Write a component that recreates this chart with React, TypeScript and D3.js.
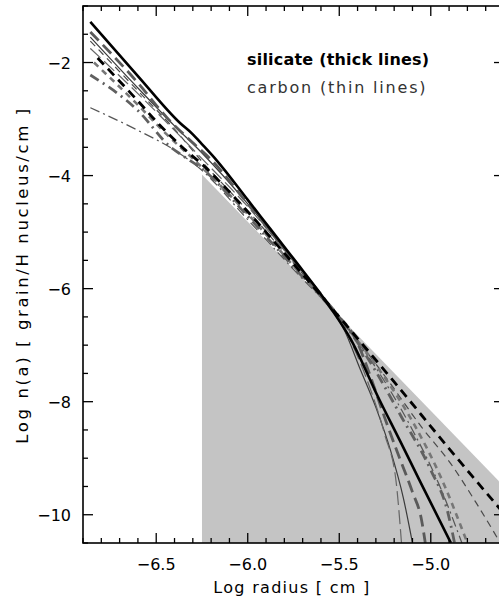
import React, { useEffect, useRef } from "react";
import * as d3 from "d3";

// ---- axes ----
const xDomain: [number, number] = [-6.9, -4.6];
const yDomain: [number, number] = [-10.5, -1];
const xMajorTicks = [-6.5, -6.0, -5.5, -5.0];
const yMajorTicks = [-10, -8, -6, -4, -2];

// ---- shaded MRN-like region ----
const shadeX = [-6.25, -4.6];
const shadeTop = [-3.98, -9.5];

// ---- silicate (thick lines) ----
const silSolidX = [-6.86, -6.6, -6.37, -6.3, -6.26, -6.17, -6.0, -5.88, -5.75, -5.55, -5.44, -5.28, -5.17, -5.06, -4.89];
const silSolidY = [-1.28, -2.24, -3.07, -3.27, -3.41, -3.73, -4.43, -4.93, -5.47, -6.33, -6.88, -7.97, -8.68, -9.4, -10.5];

const silDashX = [-6.82, -6.6, -6.48, -6.35, -6.25, -6.0, -5.75, -5.5, -5.2, -4.9, -4.6];
const silDashY = [-1.92, -2.68, -3.11, -3.52, -3.8, -4.64, -5.56, -6.5, -7.65, -8.83, -9.98];

const silLongDashX = [-6.86, -6.6, -6.44, -6.3, -6.2, -6.0, -5.75, -5.55, -5.4, -5.33, -5.25, -5.17, -5.1, -5.05, -5.03];
const silLongDashY = [-1.46, -2.36, -2.98, -3.42, -3.72, -4.5, -5.5, -6.33, -6.96, -7.55, -8.3, -9.0, -9.6, -10.1, -10.5];

const silDashDotX = [-6.86, -6.6, -6.42, -6.35, -6.25, -6.0, -5.75, -5.5, -5.35, -5.16, -5.0, -4.91, -4.87];
const silDashDotY = [-2.22, -2.85, -3.5, -3.66, -3.88, -4.72, -5.62, -6.5, -7.2, -8.27, -9.21, -9.92, -10.5];

const silShortDashX = [-6.84, -6.6, -6.45, -6.3, -6.0, -5.75, -5.5, -5.3, -5.1, -4.95, -4.8];
const silShortDashY = [-2.0, -2.75, -3.25, -3.7, -4.68, -5.6, -6.52, -7.35, -8.35, -9.3, -10.5];

// ---- carbon (thin lines) ----
const carSolidX = [-6.86, -6.6, -6.4, -6.25, -6.0, -5.75, -5.55, -5.47, -5.39, -5.3, -5.22, -5.15, -5.1];
const carSolidY = [-1.55, -2.45, -3.12, -3.6, -4.5, -5.5, -6.32, -6.75, -7.39, -8.1, -8.86, -9.7, -10.5];

const carDashX = [-6.86, -6.6, -6.4, -6.25, -6.0, -5.75, -5.5, -5.25, -5.05, -4.89, -4.75, -4.62];
const carDashY = [-1.62, -2.5, -3.18, -3.75, -4.62, -5.55, -6.5, -7.55, -8.45, -9.1, -9.8, -10.5];

const carDashDotX = [-6.86, -6.6, -6.4, -6.26, -6.0, -5.75, -5.5, -5.3, -5.1, -4.95, -4.83];
const carDashDotY = [-2.8, -3.2, -3.55, -3.88, -4.78, -5.66, -6.52, -7.4, -8.5, -9.5, -10.5];

const carLongDashX = [-6.86, -6.6, -6.4, -6.25, -6.0, -5.75, -5.55, -5.45, -5.35, -5.25, -5.19, -5.16];
const carLongDashY = [-1.75, -2.55, -3.2, -3.7, -4.55, -5.52, -6.3, -6.85, -7.6, -8.6, -9.4, -10.5];

const zip = (xs: number[], ys: number[]) => xs.map((x, i) => [x, ys[i]] as [number, number]);

const series = [
  { pts: zip(carSolidX, carSolidY), color: "#3a3a3a", width: 1.2, dash: null },
  { pts: zip(carDashX, carDashY), color: "#4a4a4a", width: 1.2, dash: "7,5" },
  { pts: zip(carDashDotX, carDashDotY), color: "#555", width: 1.2, dash: "10,4,2,4" },
  { pts: zip(carLongDashX, carLongDashY), color: "#666", width: 1.2, dash: "14,5" },
  { pts: zip(silShortDashX, silShortDashY), color: "#777", width: 2.6, dash: "6,5" },
  { pts: zip(silDashDotX, silDashDotY), color: "#606060", width: 2.8, dash: "10,5,2,5" },
  { pts: zip(silLongDashX, silLongDashY), color: "#5a5a5a", width: 2.8, dash: "12,6" },
  { pts: zip(silDashX, silDashY), color: "#000", width: 2.8, dash: "9,6" },
  { pts: zip(silSolidX, silSolidY), color: "#000", width: 2.6, dash: null },
];

export default function App() {
  const svgRef = useRef<SVGSVGElement | null>(null);

  useEffect(() => {
    document.body.style.margin = "0";
    const svg = d3.select(svgRef.current);
    svg.selectAll("*").remove();

    const left = 83, right = 504, top = 6, bottom = 543;
    const x = d3.scaleLinear().domain(xDomain).range([left, right]);
    const y = d3.scaleLinear().domain(yDomain).range([bottom, top]);
    const font = "'DejaVu Sans', sans-serif";

    svg.append("defs").append("clipPath").attr("id", "plot-clip")
      .append("rect").attr("x", left).attr("y", top)
      .attr("width", right - left).attr("height", bottom - top);

    const plot = svg.append("g").attr("clip-path", "url(#plot-clip)");

    // shaded region
    const shade = d3.area<[number, number]>()
      .x((d) => x(d[0]))
      .y0(y(yDomain[0]))
      .y1((d) => y(d[1]));
    plot.append("path")
      .datum(zip(shadeX, shadeTop))
      .attr("fill", "#c4c4c4")
      .attr("d", shade);

    const line = d3.line<[number, number]>()
      .x((d) => x(d[0]))
      .y((d) => y(d[1]))
      .curve(d3.curveMonotoneX);

    series.forEach((s) => {
      plot.append("path")
        .datum(s.pts)
        .attr("fill", "none")
        .attr("stroke", s.color)
        .attr("stroke-width", s.width)
        .attr("stroke-dasharray", s.dash)
        .attr("d", line);
    });

    // frame
    svg.append("rect")
      .attr("x", left).attr("y", top)
      .attr("width", right - left).attr("height", bottom - top)
      .attr("fill", "none").attr("stroke", "#000").attr("stroke-width", 1.6);

    // ticks (inward on all sides)
    const xMinor = d3.range(-69, -45).map((v) => v / 10);
    const yMinor = d3.range(-21, -1).map((v) => v / 2);
    const isMajorX = (v: number) => xMajorTicks.some((t) => Math.abs(t - v) < 1e-6) || Math.abs(v + 4.5) < 1e-6;
    const isMajorY = (v: number) => yMajorTicks.some((t) => Math.abs(t - v) < 1e-6);
    const ticks = svg.append("g").attr("stroke", "#000").attr("stroke-width", 1.3);
    xMinor.forEach((v) => {
      const len = isMajorX(v) ? 10 : 5;
      ticks.append("line").attr("x1", x(v)).attr("x2", x(v)).attr("y1", bottom).attr("y2", bottom - len);
      ticks.append("line").attr("x1", x(v)).attr("x2", x(v)).attr("y1", top).attr("y2", top + len);
    });
    yMinor.forEach((v) => {
      const len = isMajorY(v) ? 10 : 5;
      ticks.append("line").attr("x1", left).attr("x2", left + len).attr("y1", y(v)).attr("y2", y(v));
      ticks.append("line").attr("x1", right).attr("x2", right - len).attr("y1", y(v)).attr("y2", y(v));
    });

    // tick labels
    svg.append("g").selectAll("text").data(xMajorTicks).enter().append("text")
      .attr("x", (d) => x(d)).attr("y", 570)
      .attr("text-anchor", "middle")
      .attr("font-family", font).attr("font-size", 16)
      .text((d) => d.toFixed(1).replace("-", "\u2212"));

    svg.append("g").selectAll("text").data(yMajorTicks).enter().append("text")
      .attr("x", 71).attr("y", (d) => y(d) + 6)
      .attr("text-anchor", "end")
      .attr("font-family", font).attr("font-size", 16)
      .text((d) => String(d).replace("-", "\u2212"));

    // axis titles
    svg.append("text")
      .attr("x", 292).attr("y", 593)
      .attr("text-anchor", "middle")
      .attr("font-family", font).attr("font-size", 16)
      .attr("letter-spacing", 1.3)
      .text("Log radius [ cm ]");

    svg.append("text")
      .attr("transform", `translate(28,${275}) rotate(-90)`)
      .attr("text-anchor", "middle")
      .attr("font-family", font).attr("font-size", 16.5)
      .attr("letter-spacing", 2.6)
      .text("Log n(a) [ grain/H nucleus/cm ]");

    // legend text
    svg.append("text")
      .attr("x", 247).attr("y", 65)
      .attr("font-family", font).attr("font-size", 16).attr("font-weight", "bold")
      .attr("letter-spacing", 0.2)
      .text("silicate (thick lines)");
    svg.append("text")
      .attr("x", 247).attr("y", 93)
      .attr("font-family", font).attr("font-size", 16)
      .attr("fill", "#333")
      .attr("letter-spacing", 1.8)
      .text("carbon (thin lines)");
  }, []);

  return (
    <svg ref={svgRef} width={499} height={596} style={{ display: "block", background: "#fff" }} />
  );
}
